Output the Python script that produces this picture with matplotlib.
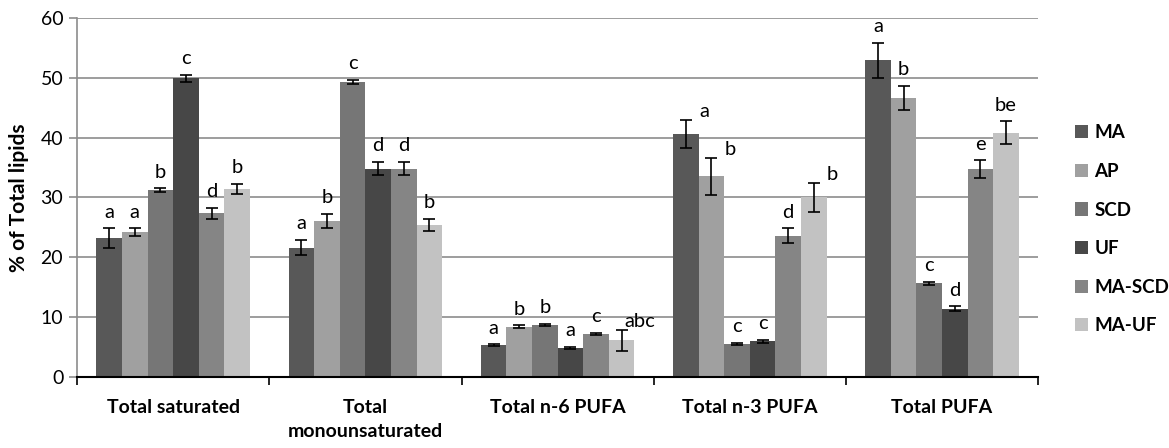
import numpy as np
import matplotlib.pyplot as plt
from matplotlib.patches import Patch

plt.rcParams['font.family'] = ['Lato', 'DejaVu Sans']

# Data
categories = ["Total saturated", "Total\nmonounsaturated", "Total n-6 PUFA",
              "Total n-3 PUFA", "Total PUFA"]
groups = ["MA", "AP", "SCD", "UF", "MA-SCD", "MA-UF"]

means = {
    "MA":     [23.2, 21.6, 5.3, 40.6, 52.9],
    "AP":     [24.2, 26.0, 8.4, 33.5, 46.6],
    "SCD":    [31.2, 49.3, 8.7, 5.5, 15.6],
    "UF":     [49.9, 34.8, 4.8, 5.9, 11.4],
    "MA-SCD": [27.3, 34.8, 7.2, 23.6, 34.7],
    "MA-UF":  [31.4, 25.4, 6.1, 30.0, 40.8],
}
errors = {
    "MA":     [1.6, 1.3, 0.1, 2.4, 2.9],
    "AP":     [0.6, 1.2, 0.2, 3.1, 2.0],
    "SCD":    [0.3, 0.4, 0.15, 0.2, 0.3],
    "UF":     [0.6, 1.1, 0.2, 0.3, 0.4],
    "MA-SCD": [1.0, 1.1, 0.2, 1.2, 1.5],
    "MA-UF":  [0.9, 1.0, 1.8, 2.4, 1.9],
}
letters = {
    "MA":     ["a", "a", "a", "a", "a"],
    "AP":     ["a", "b", "b", "b", "b"],
    "SCD":    ["b", "c", "b", "c", "c"],
    "UF":     ["c", "d", "a", "c", "d"],
    "MA-SCD": ["d", "d", "c", "d", "e"],
    "MA-UF":  ["b", "b", "abc", "b", "be"],
}
colors = ["#585858", "#a0a0a0", "#767676", "#474747", "#858585", "#c2c2c2"]

# letters that sit beside the error bar instead of on top (group, category)
side_labels = {("MA", 3), ("AP", 3), ("MA-UF", 3), ("MA-UF", 2)}

fig = plt.figure(figsize=(11.69, 4.48), dpi=100)
ax = fig.add_axes([0.066, 0.159, 0.822, 0.801])

x = np.arange(len(categories))
n = len(groups)
w = 1.0 / (n + 1.5)

for i, g in enumerate(groups):
    pos = x + (i - (n - 1) / 2) * w
    ax.bar(pos, means[g], width=w, color=colors[i], zorder=2, linewidth=0)
    ax.errorbar(pos, means[g], yerr=errors[g], fmt='none', ecolor='black',
                elinewidth=1.2, capsize=4, capthick=1.2, zorder=3)
    for j in range(len(categories)):
        top = means[g][j] + errors[g][j]
        if (g, j) in side_labels:
            ax.text(pos[j] + 0.72 * w, top + 1.4, letters[g][j], ha='center',
                    va='center', fontsize=14.5, color='black')
        else:
            ax.text(pos[j], top + 2.7, letters[g][j], ha='center',
                    va='center', fontsize=14.5, color='black')

ax.set_xlim(-0.5, len(categories) - 0.5)
ax.set_ylim(0, 60)
ax.set_yticks(np.arange(0, 61, 10))
ax.yaxis.grid(True, color='#8c8c8c', linewidth=1.2, zorder=0)
ax.set_axisbelow(True)

ax.set_xticks(np.arange(-0.5, len(categories), 1.0))
ax.set_xticklabels([])
ax.set_xticks(x, minor=True)
ax.set_xticklabels(categories, minor=True, fontsize=14, fontweight='bold',
                   linespacing=1.5)
ax.tick_params(axis='x', which='major', length=6, width=1.2, color='black',
               direction='out')
ax.tick_params(axis='x', which='minor', length=0, pad=16)
ax.tick_params(axis='y', length=6, width=1.2, color='#8c8c8c',
               labelsize=14, pad=4)

for s in ['top', 'right']:
    ax.spines[s].set_visible(False)
ax.spines['left'].set_color('#8c8c8c')
ax.spines['left'].set_linewidth(1.2)
ax.spines['bottom'].set_color('black')
ax.spines['bottom'].set_linewidth(1.5)

ax.set_ylabel("% of Total lipids", fontsize=15, fontweight='bold', labelpad=8)

handles = [Patch(facecolor=c, edgecolor='none') for c in colors]
leg = fig.legend(handles, groups, loc='upper left', bbox_to_anchor=(0.905, 0.76),
                 frameon=False, prop={'weight': 'bold', 'size': 13.5},
                 handlelength=0.7, handleheight=0.7, handletextpad=0.35,
                 labelspacing=1.15)

fig.savefig("out.png", dpi=100)
